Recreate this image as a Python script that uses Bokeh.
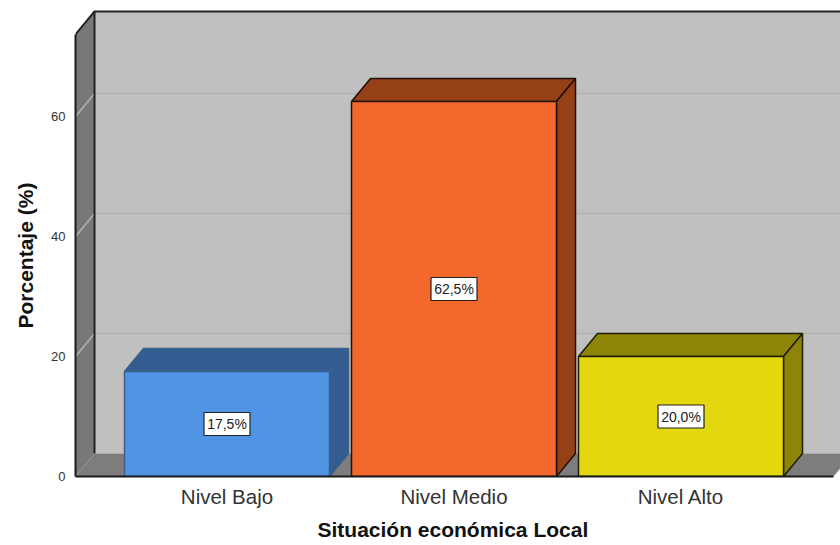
from bokeh.plotting import figure
from bokeh.models import FixedTicker, Range1d, Title
from bokeh.core.properties import value
from bokeh.embed import file_html
from bokeh.resources import INLINE

categories = ["Nivel Bajo", "Nivel Medio", "Nivel Alto"]
percentages = [17.5, 62.5, 20.0]
bar_labels = ["17,5%", "62,5%", "20,0%"]
front_colors = ["#5294E4", "#F5682B", "#E3D80E"]
depth_colors = ["#335C90", "#964018", "#8D8508"]
edge_colors = ["#3A5F8C", "#1E1208", "#1F1D08"]
y_ticks = [0, 20, 40, 60]

AXIS_TOP = 73.67
BAR_W = 205 / 227
DX = 19 / 227
DY = 23 / 6
X0 = (75 - 226.5) / 227
X1 = (840 - 226.5) / 227
X_FLOOR = (833 - 226.5) / 227
FONT = "Liberation Sans"

p = figure(width=840, height=545, output_backend="svg", toolbar_location=None,
           x_range=Range1d(X0, X1), y_range=Range1d(0, 476 / 6),
           min_border_left=75, min_border_right=0, min_border_top=0, min_border_bottom=69,
           background_fill_color="white", border_fill_color="white", outline_line_color=None)
p.grid.visible = False

# Walls and floor
p.patch([X0 + DX, X1 + 1, X1 + 1, X0 + DX], [0 + DY, 0 + DY, AXIS_TOP + DY, AXIS_TOP + DY],
        fill_color="#C0C0C0", line_color=None)
p.patch([X0, X0 + DX, X0 + DX, X0], [0, DY, AXIS_TOP + DY, AXIS_TOP],
        fill_color="#787878", line_color=None)
p.patch([X0, X0 + DX, X_FLOOR + DX, X_FLOOR], [0, DY, DY, 0],
        fill_color="#7D7D7D", line_color=None)

# Gridlines on side and back wall
for v in y_ticks[1:]:
    p.line([X0, X0 + DX, X1], [v, v + DY, v + DY], line_color="#B2B2B2", line_width=1.5)

# Wall edges
p.line([X0 + DX, X0 + DX], [DY, AXIS_TOP + DY], line_color="#222222", line_width=2)
p.line([X0, X0 + DX, X1], [AXIS_TOP, AXIS_TOP + DY, AXIS_TOP + DY], line_color="#222222", line_width=2)

# Bars
for i, val in enumerate(percentages):
    left, right = i - BAR_W / 2, i + BAR_W / 2
    edge = edge_colors[i]
    p.patch([left, right, right + DX, left + DX], [val, val, val + DY, val + DY],
            fill_color=depth_colors[i], line_color=edge, line_width=1.5)
    p.patch([right, right + DX, right + DX, right], [0, DY, val + DY, val],
            fill_color=depth_colors[i], line_color=edge, line_width=1.5)
    p.patch([left, right, right, left], [0, 0, val, val],
            fill_color=front_colors[i], line_color=edge, line_width=1.5)

# Value labels
mid = [v / 2 for v in percentages]
xs = list(range(len(categories)))
p.rect(xs, mid, width=46, height=23, width_units="screen", height_units="screen",
       fill_color="white", line_color="#222222", line_width=1.2)
p.text(xs, mid, text=bar_labels, text_align="center", text_baseline="middle",
       text_font=value(FONT), text_font_size="14px", text_color="#222222")

# Axes
xa = p.xaxis[0]
xa.ticker = FixedTicker(ticks=xs)
xa.major_label_overrides = dict(zip(xs, categories))
xa.bounds = (X0, X_FLOOR)
xa.axis_line_color = "#1A1A1A"
xa.axis_line_width = 2
xa.major_tick_line_color = None
xa.minor_tick_line_color = None
xa.major_tick_in = 0
xa.major_tick_out = 0
xa.major_label_standoff = 8
xa.major_label_text_font = FONT
xa.major_label_text_font_size = "20.5px"
xa.major_label_text_color = "#333333"

ya = p.yaxis[0]
ya.ticker = FixedTicker(ticks=y_ticks)
ya.bounds = (0, AXIS_TOP)
ya.axis_line_color = "#1A1A1A"
ya.axis_line_width = 2
ya.major_tick_line_color = None
ya.minor_tick_line_color = None
ya.major_tick_in = 0
ya.major_tick_out = 0
ya.major_label_standoff = 10
ya.major_label_text_font = FONT
ya.major_label_text_font_size = "13px"
ya.major_label_text_color = "#333333"

p.add_layout(Title(text="Porcentaje (%)", align="left", offset=148, standoff=23,
                   text_font=FONT, text_font_style="bold", text_font_size="21px", text_color="#111111"), "left")
p.add_layout(Title(text="Situación económica Local", align="left", offset=242, standoff=10,
                   text_font=FONT, text_font_style="bold", text_font_size="21px", text_color="#111111"), "below")

open("out.html", "w").write(file_html(p, INLINE))
